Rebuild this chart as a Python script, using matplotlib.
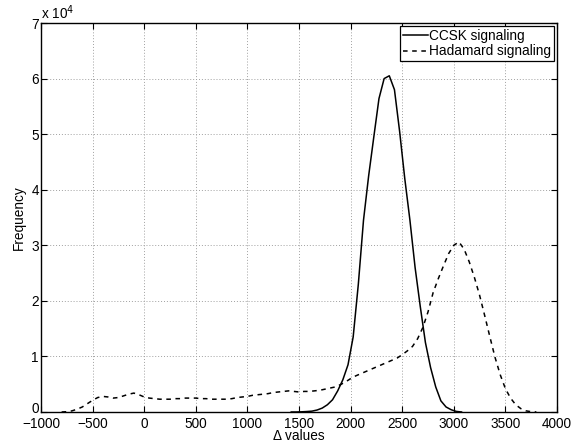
import numpy as np
import matplotlib
matplotlib.use("Agg")
import matplotlib.pyplot as plt
import matplotlib.transforms as mtransforms
from matplotlib.ticker import FuncFormatter

# CCSK signaling (frequency in units of 1e4)
ccsk_x = [1425, 1475, 1525, 1575, 1625, 1675, 1725, 1775, 1825, 1875, 1925,
          1975, 2025, 2075, 2125, 2175, 2225, 2275, 2325, 2375, 2425, 2475,
          2525, 2575, 2625, 2675, 2725, 2775, 2825, 2875, 2925, 2975, 3025, 3075]
ccsk_y = [0, 0, 0.003, 0.008, 0.015, 0.035, 0.07, 0.13, 0.22, 0.38, 0.58,
          0.85, 1.35, 2.3, 3.45, 4.25, 4.95, 5.64, 6.0, 6.05, 5.8, 5.05,
          4.2, 3.45, 2.6, 1.9, 1.25, 0.8, 0.45, 0.2, 0.09, 0.04, 0.01, 0]

# Hadamard signaling (frequency in units of 1e4)
had_x = list(range(-800, 3801, 50))
had_y = [0, 0.005, 0.02, 0.05, 0.09, 0.15, 0.21, 0.26, 0.28, 0.27, 0.25,
         0.26, 0.29, 0.32, 0.34, 0.31, 0.27, 0.25, 0.24, 0.23, 0.23,
         0.23, 0.24, 0.24, 0.25, 0.25, 0.25, 0.24, 0.24, 0.23, 0.23,
         0.23, 0.23, 0.24, 0.26, 0.27, 0.28, 0.3, 0.31, 0.32, 0.33,
         0.35, 0.36, 0.37, 0.38, 0.37, 0.36, 0.37, 0.37, 0.38, 0.39,
         0.41, 0.43, 0.45, 0.49, 0.54, 0.6, 0.65, 0.69, 0.73, 0.77,
         0.81, 0.85, 0.89, 0.93, 0.97, 1.03, 1.1, 1.18, 1.32, 1.52,
         1.8, 2.15, 2.4, 2.63, 2.85, 3.0, 3.06, 2.93, 2.7, 2.42,
         2.1, 1.73, 1.35, 0.98, 0.67, 0.42, 0.25, 0.13, 0.06, 0.02,
         0.005, 0]

xticks = list(range(-1000, 4001, 500))
yticks = list(range(0, 8))

plt.rcParams['font.family'] = ['Liberation Sans', 'DejaVu Sans']
plt.rcParams['font.size'] = 9.8

fig = plt.figure(figsize=(5.83, 4.45), dpi=100)
ax = fig.add_axes([0.0703, 0.0742, 0.8851, 0.8741])

scale = 1e4
ax.plot(ccsk_x, np.array(ccsk_y) * scale, color='black', lw=1.1,
        label='CCSK signaling')
ax.plot(had_x, np.array(had_y) * scale, color='black', lw=1.1,
        linestyle=(0, (3, 3)), label='Hadamard signaling')

ax.set_xlim(-1000, 4000)
ax.set_ylim(0, 7e4)
ax.set_xticks(xticks)
ax.set_yticks([v * scale for v in yticks])
ax.yaxis.set_major_formatter(FuncFormatter(lambda v, p: '%d' % round(v / scale)))

ax.grid(True, color='#a0a0a0', linestyle=(0, (1, 2)), linewidth=0.7)
ax.tick_params(direction='in', top=True, right=True, length=4, width=0.8,
               labelsize=9.8, colors='black')
ax.tick_params(axis='x', pad=3.5)
ax.tick_params(axis='y', pad=1.5)
for s in ax.spines.values():
    s.set_linewidth(1.0)

# nudge the "0" y label up a touch so it doesn't collide with -1000
lab0 = ax.get_yticklabels()[0]
lab0.set_transform(lab0.get_transform() +
                   mtransforms.ScaledTranslation(0, 3 / 72, fig.dpi_scale_trans))

ax.text(0.0, 1.003, 'x 10$^4$', transform=ax.transAxes, fontsize=9.8,
        ha='left', va='bottom')

ax.set_xlabel('\u0394 values', fontsize=9.8, labelpad=-1)
ax.set_ylabel('Frequency', fontsize=9.8, labelpad=4)

leg = ax.legend(loc='upper right', fontsize=9.8, handlelength=1.85,
                handletextpad=0.05, borderpad=0.2, labelspacing=0.1,
                borderaxespad=0.25, fancybox=False, framealpha=1)
leg.get_frame().set_edgecolor('black')
leg.get_frame().set_linewidth(0.9)

fig.savefig('out.png', dpi=100)
